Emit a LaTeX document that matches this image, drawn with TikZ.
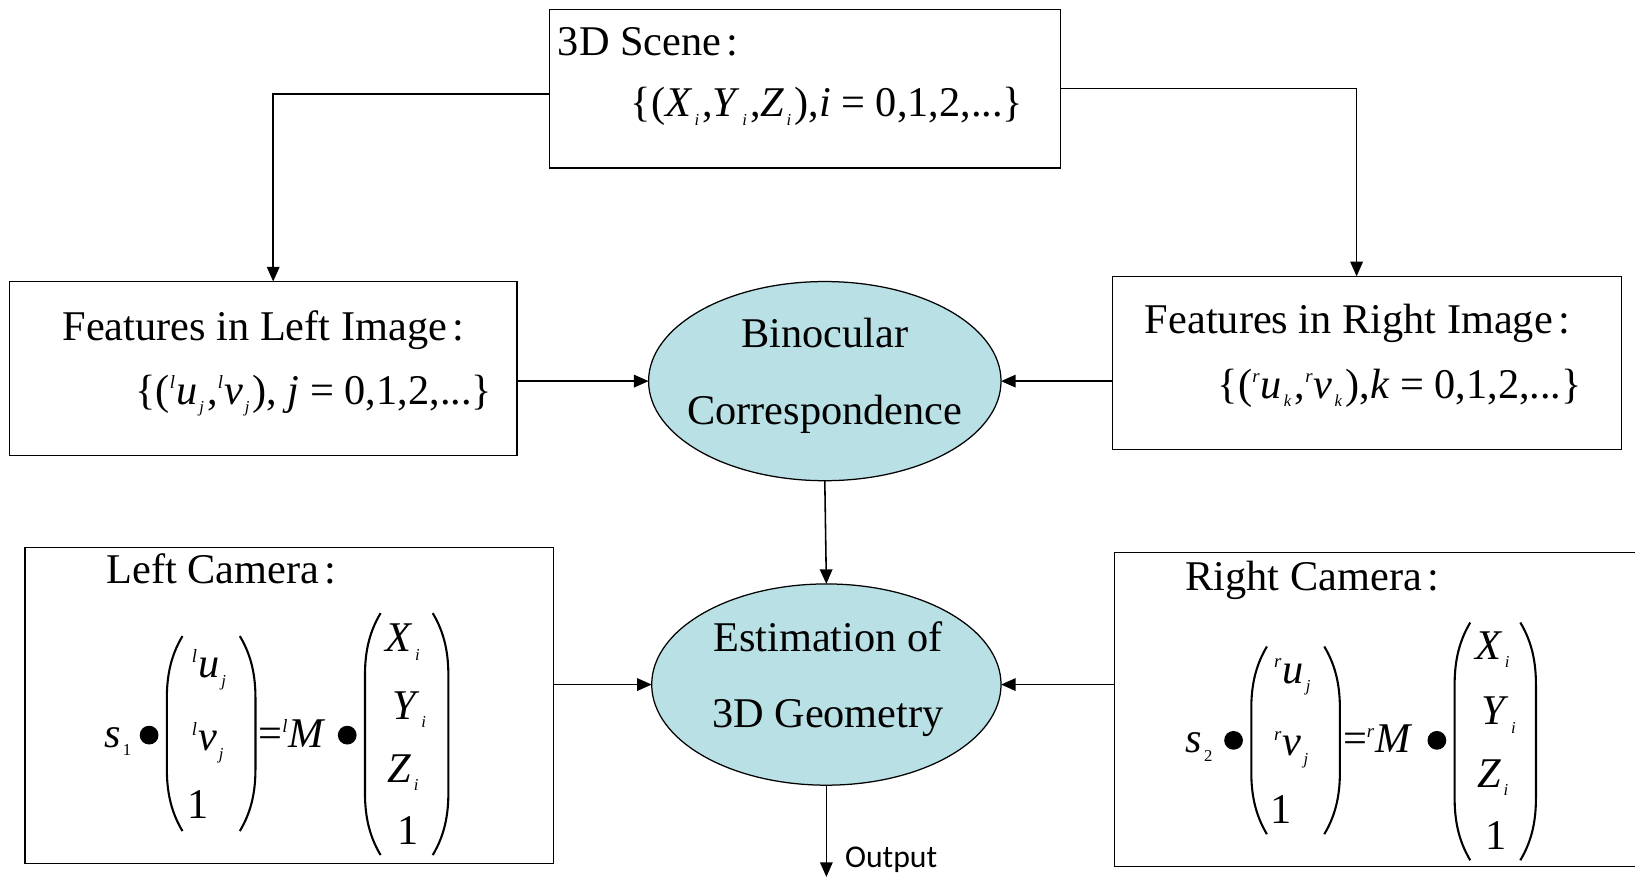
\documentclass[tikz,border=0pt]{standalone}
\usepackage{fontspec}
\setmainfont{Liberation Serif}
\newfontfamily\outfont{Carlito}
\usetikzlibrary{shapes.geometric,arrows.meta,calc}
\definecolor{ellfill}{RGB}{185,224,228}
\newcommand{\vi}[1]{\textit{#1}}
\newcommand{\sbs}[1]{\kern1pt\raisebox{-4pt}{\fontsize{8}{9}\selectfont\textit{#1}}\kern1.5pt}
\newcommand{\sbu}[1]{\kern1pt\raisebox{-4pt}{\fontsize{8}{9}\selectfont #1}\kern1.5pt}
\newcommand{\sps}[1]{\raisebox{7.5pt}{\fontsize{9}{10}\selectfont\textit{#1}}\kern0.5pt}
\newcommand{\cln}{\hspace{0.12em}:}
\newcommand{\myLP}[3]{\draw[parenline] (#1+15,#2) .. controls (#1+3,#2+20) and (#1,#2+40) .. (#1,#2+60) -- (#1,#3-60) .. controls (#1,#3-40) and (#1+3,#3-20) .. (#1+15,#3);}
\newcommand{\myRP}[3]{\draw[parenline] (#1-15,#2) .. controls (#1-3,#2+20) and (#1,#2+40) .. (#1,#2+60) -- (#1,#3-60) .. controls (#1,#3-40) and (#1-3,#3-20) .. (#1-15,#3);}
\tikzset{
  box/.style={draw, line width=0.75pt, rectangle, inner sep=0pt, outer sep=0pt},
  ell/.style={draw, line width=0.6pt, ellipse, fill=ellfill, inner sep=0pt, outer sep=0pt},
  txt/.style={inner sep=0pt, outer sep=0pt, font=\fontsize{20.3}{24}\selectfont},
  arr/.style={line width=0.75pt, -{Triangle[length=7pt,width=6pt]}},
  parenline/.style={line width=1pt},
  dot/.style={circle, fill=black, inner sep=0pt, minimum size=9pt}
}
\begin{document}
\begin{tikzpicture}[x=0.5pt,y=-0.5pt]
\useasboundingbox (0,0) rectangle (1568,841);
% boxes
\node[box, minimum width=245pt, minimum height=76pt] (scene) at (772,85) {};
\node[box, minimum width=243.5pt, minimum height=83.5pt] (featL) at (252.5,353.5) {};
\node[box, minimum width=244pt, minimum height=83pt] (featR) at (1311,348) {};
\node[box, minimum width=253.5pt, minimum height=151.5pt] (camL) at (277.5,676.5) {};
\node[box, minimum width=265.5pt, minimum height=150.5pt] (camR) at (1334.5,680.5) {};
\node[ell, minimum width=169pt, minimum height=95.5pt] (E1) at (791,365.5) {};
\node[ell, minimum width=167.5pt, minimum height=96.5pt] (E2) at (792.5,656.5) {};
% texts
\node[txt, anchor=base west] (sceneT) at (535,53) {3D Scene\cln};
\node[txt, anchor=base west] (sceneF) at (605,112) {\{(\vi{X}\sbs{i},\vi{Y}\sbs{i},\vi{Z}\sbs{i}),\vi{i} = 0,1,2,...\}};
\node[txt, anchor=base west] (featLT) at (60,327) {Features in Left Image\cln};
\node[txt, anchor=base west] (featLF) at (130,388) {\{(\sps{l}\vi{u}\sbs{j},\sps{l}\vi{v}\sbs{j}), \vi{j} = 0,1,2,...\}};
\node[txt, anchor=base west] (featRT) at (1098,320) {Features in Right Image\cln};
\node[txt, anchor=base west] (featRF) at (1168,382) {\{(\sps{r}\vi{u}\sbs{k},\sps{r}\vi{v}\sbs{k}),\vi{k} = 0,1,2,...\}};
\node[txt, anchor=base] (E1a) at (791,333) {Binocular};
\node[txt, anchor=base] (E1b) at (791,407) {Correspondence};
\node[txt, anchor=base] (E2a) at (794,625) {Estimation of};
\node[txt, anchor=base] (E2b) at (794,698) {3D Geometry};
% left camera
\node[txt, anchor=base west] (camLT) at (102,560) {Left Camera\cln};
\node[txt, anchor=base west] (sL) at (100,717) {\vi{s}\sbu{1}};
\node[dot] (bL1) at (143,705) {};
\myLP{160}{610}{797}
\node[txt, anchor=base west] (uL) at (184,650) {\sps{l}\vi{u}\sbs{j}};
\node[txt, anchor=base west] (vL) at (184,720) {\sps{l}\vi{v}\sbs{j}};
\node[txt, anchor=base west] (oL) at (180,785) {1};
\myRP{245}{610}{797}
\node[txt, anchor=base west] (eqL) at (248,717) {=\sps{l}\vi{M}};
\node[dot] (bL2) at (333,705) {};
\myLP{350}{588}{820}
\node[txt, anchor=base west] (XL) at (370,625) {\vi{X}\sbs{i}};
\node[txt, anchor=base west] (YL) at (376,690) {\vi{Y}\sbs{i}};
\node[txt, anchor=base west] (ZL) at (372,750) {\vi{Z}\sbs{i}};
\node[txt, anchor=base west] (oL2) at (381,810) {1};
\myRP{430}{588}{820}
% right camera
\node[txt, anchor=base west] (camRT) at (1137,566) {Right Camera\cln};
\node[txt, anchor=base west] (sR) at (1137,722) {\vi{s}\sbu{2}};
\node[dot] (bR1) at (1183,710) {};
\myLP{1200}{620}{800}
\node[txt, anchor=base west] (uR) at (1222,655) {\sps{r}\vi{u}\sbs{j}};
\node[txt, anchor=base west] (vR) at (1222,725) {\sps{r}\vi{v}\sbs{j}};
\node[txt, anchor=base west] (oR) at (1218,790) {1};
\myRP{1285}{620}{800}
\node[txt, anchor=base west] (eqR) at (1288,722) {=\sps{r}\vi{M}};
\node[dot] (bR2) at (1378,710) {};
\myLP{1395}{597}{825}
\node[txt, anchor=base west] (XR) at (1415,632) {\vi{X}\sbs{i}};
\node[txt, anchor=base west] (YR) at (1421,695) {\vi{Y}\sbs{i}};
\node[txt, anchor=base west] (ZR) at (1417,755) {\vi{Z}\sbs{i}};
\node[txt, anchor=base west] (oR2) at (1425,815) {1};
\myRP{1473}{597}{825}
% connectors
\coordinate (outEnd) at (792.5,841);
\draw[arr] ([yshift=-2.5pt]scene.west) -| ([xshift=4.75pt]featL.north);
\draw[arr] (scene.east) -| ([xshift=-5pt]featR.north);
\draw[arr] (featL.east |- E1.west) -- (E1.west);
\draw[arr] (featR.west |- E1.east) -- (E1.east);
\draw[arr] (E1.south) -- (E2.north);
\draw[arr] (camL.east |- E2.west) -- (E2.west);
\draw[arr] (camR.west |- E2.east) -- (E2.east);
\draw[arr] (E2.south) -- (outEnd);
\node[inner sep=0pt, anchor=base west, font=\outfont\fontsize{15.2}{18}\selectfont] (outL) at (810,832) {Output};
\end{tikzpicture}
\end{document}
